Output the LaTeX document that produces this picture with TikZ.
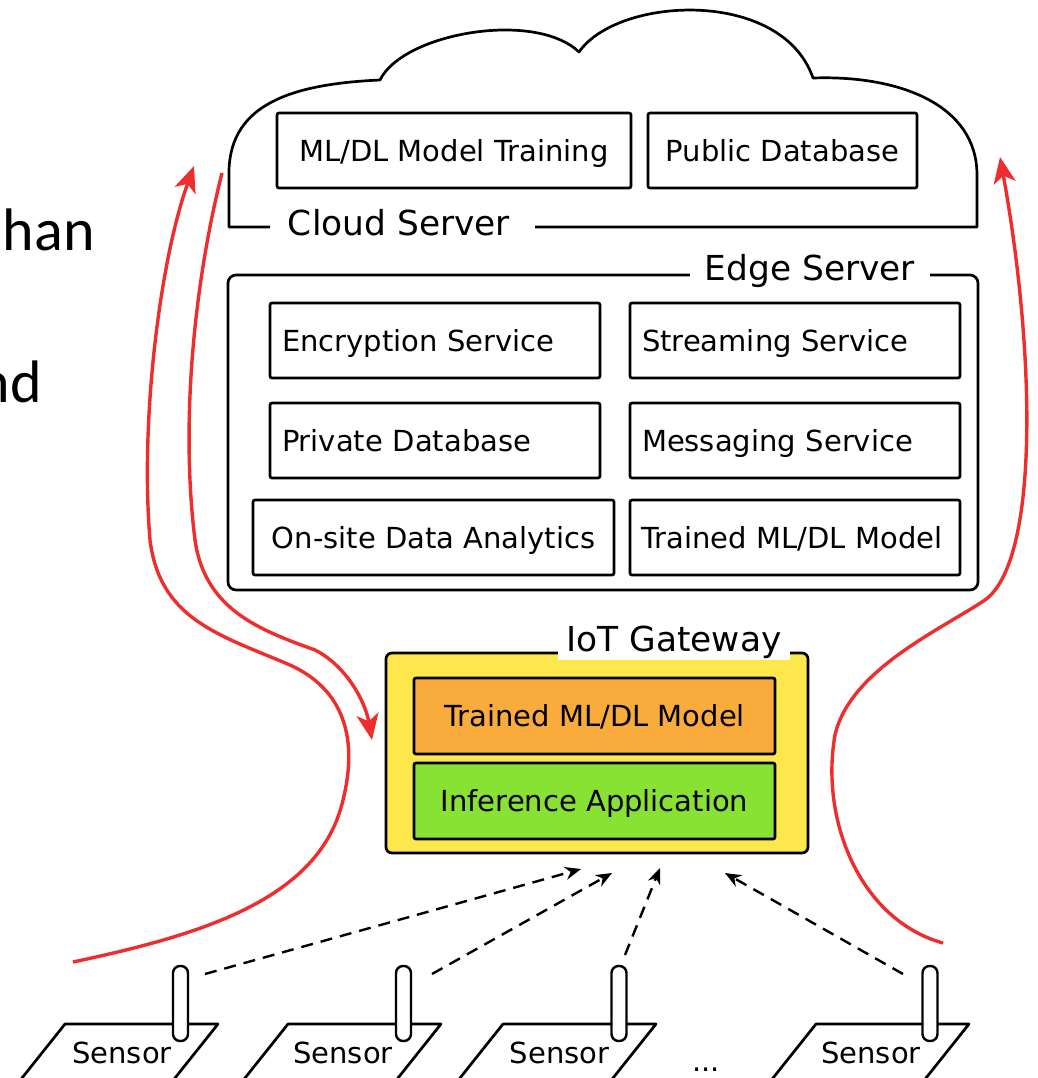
\documentclass[tikz,border=0pt]{standalone}
\usepackage{fontspec}
\setmainfont{DejaVu Sans}
\newfontfamily\slidefont{Carlito}
\usetikzlibrary{arrows.meta}
\definecolor{gwyellow}{HTML}{FDE74C}
\definecolor{gworange}{HTML}{F9AC3B}
\definecolor{gwgreen}{HTML}{87E234}
\definecolor{flowred}{HTML}{EE2D2D}
\begin{document}
\begin{tikzpicture}[x=0.5pt,y=-0.5pt,
  blk/.style={line width=1.35pt, line join=round},
  box/.style={draw, line width=1.35pt, rounded corners=1pt, minimum height=37.5pt,
    inner xsep=6pt, inner ysep=0pt, font=\fontsize{14.5pt}{17pt}\selectfont,
    text height=10.6pt, text depth=0pt},
  lbox/.style={box, align=left, text width=153pt},
  cbox/.style={box, align=center},
  grplabel/.style={fill=white, inner ysep=1pt, font=\fontsize{17.2pt}{20pt}\selectfont, anchor=base},
  sensortext/.style={inner sep=0pt, font=\fontsize{14.5pt}{17pt}\selectfont, anchor=base},
  antenna/.style={draw, line width=1.2pt, fill=white, rounded corners=3.5pt,
    minimum width=7.5pt, minimum height=37.5pt, inner sep=0pt},
  wireless/.style={line width=1.2pt, dash pattern=on 6pt off 4pt, -{Stealth[length=8pt,width=6.5pt]}},
  flow/.style={draw=flowred, line width=1.7pt, -{Stealth[length=13pt,width=11pt,inset=3.5pt]}}
]
\useasboundingbox (0,0) rectangle (1038,1078);

% slide text fragments
\node[inner sep=0pt, anchor=base east, font=\slidefont\fontsize{30pt}{36pt}\selectfont] (frag1) at (95,250) {han};
\node[inner sep=0pt, anchor=base east, font=\slidefont\fontsize{30pt}{36pt}\selectfont] (frag2) at (42,402) {nd};

% cloud
\draw[blk] (270,227) -- (229,227) -- (229,170)
  .. controls (231,105) and (290,84) .. (380,80)
  .. controls (403,33) and (535,10) .. (579,52)
  .. controls (618,-4) and (782,-12) .. (813,78)
  .. controls (900,75) and (977,105) .. (977,175)
  -- (977,227) -- (535,227);
\node[grplabel, inner xsep=0pt] (cloudlbl) at (399,235) {Cloud Server};
\node[cbox, minimum width=177pt] (mltrain) at (454,150.5) {ML/DL Model Training};
\node[cbox, minimum width=134.5pt] (pubdb) at (782.5,150.5) {Public Database};

% edge server
\node[draw, line width=1.35pt, rounded corners=4pt, minimum width=375pt, minimum height=157.5pt] (edge) at (603,432.5) {};
\node[grplabel, inner xsep=7.25pt] (edgelbl) at (810,280) {Edge Server};
\node[lbox] (enc) at (435,340.5) {Encryption Service};
\node[lbox] (stream) at (795,340.5) {Streaming Service};
\node[lbox] (privdb) at (435,440.5) {Private Database};
\node[lbox] (msg) at (795,440.5) {Messaging Service};
\node[cbox, minimum width=180.5pt] (onsite) at (433.5,537.5) {On-site Data Analytics};
\node[box, align=left, inner xsep=5.5pt, text width=154pt] (edgemodel) at (795,537.5) {Trained ML/DL Model};

% IoT gateway
\node[draw, line width=1.35pt, fill=gwyellow, rounded corners=3pt, minimum width=211pt, minimum height=100pt] (gw) at (597,753) {};
\node[grplabel, inner xsep=4.25pt] (gwlbl) at (674,651) {IoT Gateway};
\node[cbox, fill=gworange, minimum width=180.5pt, minimum height=38pt] (gwmodel) at (594.5,716) {Trained ML/DL Model};
\node[cbox, fill=gwgreen, minimum width=180.5pt, minimum height=38pt] (infer) at (594.5,801) {Inference Application};

% sensors
\draw[blk] (65,1024) -- (218,1024) -- (173.4,1080) -- (20.4,1080) -- cycle;
\node[antenna] (ant1) at (180.5,1003.5) {};
\node[sensortext] (sen1) at (122,1063) {Sensor};

\draw[blk] (288,1024) -- (441,1024) -- (396.4,1080) -- (243.4,1080) -- cycle;
\node[antenna] (ant2) at (403.5,1003.5) {};
\node[sensortext] (sen2) at (343,1063) {Sensor};

\draw[blk] (503,1024) -- (656,1024) -- (611.4,1080) -- (458.4,1080) -- cycle;
\node[antenna] (ant3) at (619,1003.5) {};
\node[sensortext] (sen3) at (559.5,1063) {Sensor};

\draw[blk] (816,1024) -- (969,1024) -- (924.4,1080) -- (771.4,1080) -- cycle;
\node[antenna] (ant4) at (930,1003.5) {};
\node[sensortext] (sen4) at (871,1063) {Sensor};

\node[sensortext] (dots) at (706,1071) {...};

% wireless links
\coordinate (w1s) at (205,974); \coordinate (w1e) at (581,869);
\coordinate (w2s) at (432,974); \coordinate (w2e) at (612,873);
\coordinate (w3s) at (625,955); \coordinate (w3e) at (660,868);
\coordinate (w4s) at (903,974); \coordinate (w4e) at (725,873);
\draw[wireless] (w1s) -- (w1e);
\draw[wireless] (w2s) -- (w2e);
\draw[wireless] (w3s) -- (w3e);
\draw[wireless] (w4s) -- (w4e);

% red data flows
\coordinate (aS) at (222,173); \coordinate (aE) at (372,740);
\draw[flow] (aS) .. controls (195,280) and (180,420) .. (195,540)
  .. controls (205,610) and (260,630) .. (315,650)
  .. controls (345,665) and (365,700) .. (aE);

\coordinate (bS) at (73,962); \coordinate (bE) at (194,166);
\draw[flow] (bS) .. controls (200,935) and (320,900) .. (343,800)
  .. controls (358,740) and (345,690) .. (290,665)
  .. controls (220,635) and (160,620) .. (150,540)
  .. controls (140,420) and (160,260) .. (bE);

\coordinate (cS) at (943,943); \coordinate (cE) at (1000,157);
\draw[flow] (cS) .. controls (860,920) and (820,820) .. (835,735)
  .. controls (850,670) and (940,630) .. (985,600)
  .. controls (1040,560) and (1035,350) .. (cE);
\end{tikzpicture}
\end{document}
